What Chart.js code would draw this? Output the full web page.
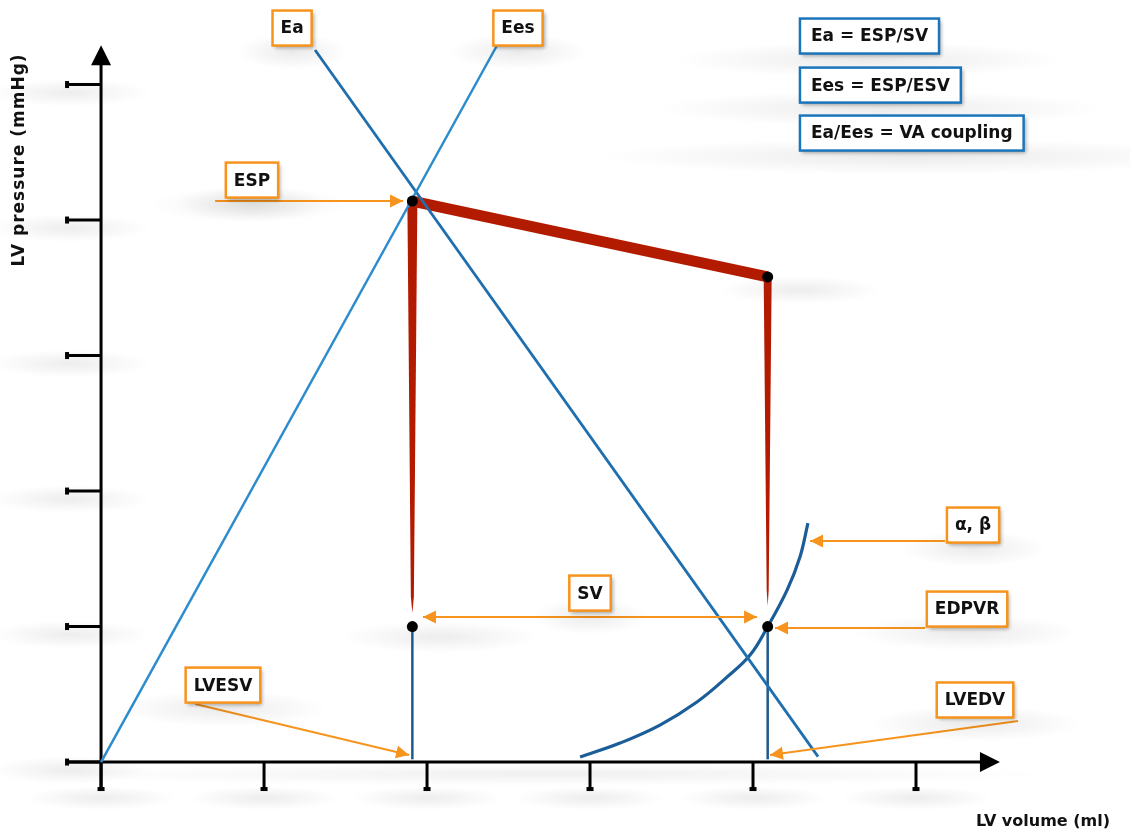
<!DOCTYPE html>
<html>
<head>
<meta charset="utf-8">
<script src="https://cdn.jsdelivr.net/npm/chart.js@4.4.1/dist/chart.umd.min.js"></script>
<style>
  html, body { margin: 0; padding: 0; background: #fff; overflow: hidden; }
  #wrap { width: 1130px; height: 834px; position: relative; }
  canvas { display: block; }
</style>
</head>
<body>
<div id="wrap"><canvas id="pvChart"></canvas></div>
<script>
// axis ticks (no labels, just marks)
const xTicks = [0, 1, 2, 3, 4, 5];
const yTicks = [0, 1, 2, 3, 4, 5];

// PV loop corners: ESV/ESP, EDV
const loopVolume = [1.91, 1.91, 4.09, 4.09];
const loopPressure = [1.0, 4.14, 3.58, 1.0];

// Ees and Ea lines
const eesVolume = [0, 2.43];
const eesPressure = [0, 5.29];
const eaVolume = [1.313, 4.399];
const eaPressure = [5.255, 0.04];

// EDPVR curve
const edpvrVolume = [2.939, 3.184, 3.429, 3.656, 3.84, 3.982, 4.09, 4.209, 4.288, 4.337];
const edpvrPressure = [0.037, 0.14, 0.273, 0.443, 0.627, 0.79, 1.0, 1.269, 1.513, 1.764];

// scale window
const xMin = -0.62, xMax = 6.313;
const yMin = -0.531, yMax = 5.624;
const pxPerX = 1130 / (xMax - xMin);

const ORANGE = '#f7941d';
const BLUE = '#1b75bb';
const RED = '#b31b00';
const FONT = 'bold 17px "DejaVu Sans", Verdana, sans-serif';

// annotation labels
const labels = [
  { text: 'Ea', x: 1.172, y: 5.417 },
  { text: 'Ees', x: 2.558, y: 5.417 },
  { text: 'ESP', x: 0.926, y: 4.295 },
  { text: 'SV', x: 3.0, y: 1.247 },
  { text: 'LVESV', x: 0.748, y: 0.568 },
  { text: 'LVEDV', x: 5.362, y: 0.458 },
  { text: 'EDPVR', x: 5.313, y: 1.129 },
  { text: 'α, β', x: 5.35, y: 1.749 }
];
const formulas = [
  { text: 'Ea = ESP/SV', x: 4.288, y: 5.358 },
  { text: 'Ees = ESP/ESV', x: 4.288, y: 4.996 },
  { text: 'Ea/Ees = VA coupling', x: 4.288, y: 4.642 }
];
const arrows = [
  { from: [0.70, 4.14], to: [1.853, 4.14] },
  { from: [1.975, 1.07], to: [4.025, 1.07], both: true },
  { from: [0.577, 0.428], to: [1.89, 0.052] },
  { from: [5.626, 0.303], to: [4.104, 0.052] },
  { from: [5.055, 0.989], to: [4.135, 0.989] },
  { from: [5.178, 1.631], to: [4.35, 1.631] }
];

function pts(xs, ys) {
  return xs.map((x, i) => ({ x: x, y: ys[i] }));
}

// tapered side of the loop, built as a polygon
function taper(x, yTop, yTip, wTop, wBottom) {
  const a = wTop / 2 / pxPerX, b = wBottom / 2 / pxPerX;
  const yb = yTip + 0.12;
  return [
    { x: x - a, y: yTop }, { x: x + a, y: yTop },
    { x: x + b, y: yb }, { x: x, y: yTip }, { x: x - b, y: yb },
    { x: x - a, y: yTop }
  ];
}

function softEllipse(ctx, cx, cy, rx, ry, alpha) {
  ctx.save();
  ctx.translate(cx, cy);
  ctx.scale(rx, ry);
  const g = ctx.createRadialGradient(0, 0, 0, 0, 0, 1);
  g.addColorStop(0, 'rgba(0,0,0,' + alpha + ')');
  g.addColorStop(1, 'rgba(0,0,0,0)');
  ctx.fillStyle = g;
  ctx.beginPath();
  ctx.arc(0, 0, 1, 0, Math.PI * 2);
  ctx.fill();
  ctx.restore();
}

function arrowHead(ctx, x0, y0, x1, y1) {
  const ang = Math.atan2(y1 - y0, x1 - x0);
  const len = 13, half = 6.5;
  ctx.beginPath();
  ctx.moveTo(x1, y1);
  ctx.lineTo(x1 - len * Math.cos(ang) - half * Math.sin(ang), y1 - len * Math.sin(ang) + half * Math.cos(ang));
  ctx.lineTo(x1 - len * Math.cos(ang) + half * Math.sin(ang), y1 - len * Math.sin(ang) - half * Math.cos(ang));
  ctx.closePath();
  ctx.fill();
}

function box(ctx, text, cx, cy, color, alignLeft) {
  ctx.font = FONT;
  const pad = alignLeft ? 11 : 8;
  const w = ctx.measureText(text).width + pad * 2;
  const h = 35;
  const left = alignLeft ? cx : cx - w / 2;
  const top = cy - h / 2;
  softEllipse(ctx, left + w / 2, top + h + 6, w * 1.4, 18, 0.08);
  ctx.save();
  ctx.shadowColor = 'rgba(0,0,0,0.35)';
  ctx.shadowBlur = 4;
  ctx.shadowOffsetX = 2;
  ctx.shadowOffsetY = 2;
  ctx.fillStyle = '#fff';
  ctx.fillRect(left, top, w, h);
  ctx.restore();
  ctx.strokeStyle = color;
  ctx.lineWidth = 2.5;
  ctx.strokeRect(left, top, w, h);
  ctx.fillStyle = '#111';
  ctx.textAlign = 'left';
  ctx.textBaseline = 'middle';
  ctx.fillText(text, left + pad, cy + 1);
}

function arrowHeadBig(ctx, x, y, dir) {
  ctx.beginPath();
  if (dir === 'x') {
    ctx.moveTo(x, y);
    ctx.lineTo(x - 20, y - 10);
    ctx.lineTo(x - 20, y + 10);
  } else {
    ctx.moveTo(x, y);
    ctx.lineTo(x - 10, y + 20);
    ctx.lineTo(x + 10, y + 20);
  }
  ctx.closePath();
  ctx.fill();
}

const sketchAxes = {
  id: 'sketchAxes',
  beforeDatasetsDraw(chart) {
    const ctx = chart.ctx;
    const sx = chart.scales.x, sy = chart.scales.y;
    const ox = sx.getPixelForValue(0), oy = sy.getPixelForValue(0);
    const xEnd = sx.getPixelForValue(5.515), yEnd = sy.getPixelForValue(5.29);
    ctx.save();
    // soft shadows
    yTicks.forEach(t => softEllipse(ctx, 70, sy.getPixelForValue(t) + 8, 80, 14, 0.07));
    xTicks.forEach(t => softEllipse(ctx, sx.getPixelForValue(t), oy + 36, 75, 12, 0.07));
    softEllipse(ctx, 550, oy + 12, 500, 12, 0.06);

    ctx.strokeStyle = '#000';
    ctx.fillStyle = '#000';
    ctx.lineWidth = 3;
    ctx.lineCap = 'butt';
    // axis lines
    ctx.beginPath();
    ctx.moveTo(ox - 34, oy);
    ctx.lineTo(xEnd - 14, oy);
    ctx.moveTo(ox, oy + 28);
    ctx.lineTo(ox, yEnd + 14);
    ctx.stroke();
    arrowHeadBig(ctx, xEnd, oy, 'x');
    arrowHeadBig(ctx, ox, yEnd, 'y');
    // ticks with little end caps
    yTicks.forEach(t => {
      const y = sy.getPixelForValue(t);
      ctx.beginPath();
      ctx.moveTo(ox - 34, y);
      ctx.lineTo(ox, y);
      ctx.stroke();
      ctx.fillRect(ox - 36, y - 3.5, 4, 7);
    });
    xTicks.forEach(t => {
      const x = sx.getPixelForValue(t);
      ctx.beginPath();
      ctx.moveTo(x, oy);
      ctx.lineTo(x, oy + 27);
      ctx.stroke();
      ctx.fillRect(x - 3.5, oy + 25, 7, 4);
    });
    // shadows near loop dots
    softEllipse(ctx, 440, 637, 100, 16, 0.07);
    softEllipse(ctx, 800, 290, 80, 14, 0.07);
    softEllipse(ctx, 250, 205, 100, 18, 0.06);
    ctx.restore();
  },
  afterDatasetsDraw(chart) {
    const ctx = chart.ctx;
    const sx = chart.scales.x, sy = chart.scales.y;
    ctx.save();
    ctx.strokeStyle = ORANGE;
    ctx.fillStyle = ORANGE;
    ctx.lineWidth = 2;
    arrows.forEach(a => {
      const x0 = sx.getPixelForValue(a.from[0]), y0 = sy.getPixelForValue(a.from[1]);
      const x1 = sx.getPixelForValue(a.to[0]), y1 = sy.getPixelForValue(a.to[1]);
      ctx.beginPath();
      ctx.moveTo(x0, y0);
      ctx.lineTo(x1, y1);
      ctx.stroke();
      arrowHead(ctx, x0, y0, x1, y1);
      if (a.both) arrowHead(ctx, x1, y1, x0, y0);
    });
    labels.forEach(l => box(ctx, l.text, sx.getPixelForValue(l.x), sy.getPixelForValue(l.y), ORANGE, false));
    formulas.forEach(l => box(ctx, l.text, sx.getPixelForValue(l.x), sy.getPixelForValue(l.y), BLUE, true));

    // axis titles
    ctx.fillStyle = '#111';
    ctx.textBaseline = 'middle';
    ctx.textAlign = 'right';
    ctx.font = 'bold 16px "DejaVu Sans", Verdana, sans-serif';
    ctx.fillText('LV volume (ml)', 1110, 822);
    ctx.translate(20, 160);
    ctx.rotate(-Math.PI / 2);
    ctx.textAlign = 'center';
    ctx.font = 'bold 17px "DejaVu Sans", Verdana, sans-serif';
    ctx.letterSpacing = '1px';
    ctx.fillText('LV pressure (mmHg)', 0, 0);
    ctx.restore();
  }
};

const lineBase = { type: 'line', showLine: true, pointRadius: 0, fill: false, tension: 0 };

new Chart(document.getElementById('pvChart').getContext('2d'), {
  type: 'scatter',
  data: {
    datasets: [
      { ...lineBase, label: 'points', showLine: false, order: 0,
        data: pts([loopVolume[1], loopVolume[2], loopVolume[0], loopVolume[3]],
                  [loopPressure[1], loopPressure[2], loopPressure[0], loopPressure[3]]),
        pointRadius: 5.5, pointBackgroundColor: '#000', pointBorderWidth: 0 },
      { ...lineBase, label: 'Ees', order: 1, data: pts(eesVolume, eesPressure),
        borderColor: '#2d8ccd', borderWidth: 2.5 },
      { ...lineBase, label: 'Ea', order: 1, data: pts(eaVolume, eaPressure),
        borderColor: '#1f6eae', borderWidth: 2.8 },
      { ...lineBase, label: 'EDPVR', order: 1, data: pts(edpvrVolume, edpvrPressure),
        borderColor: '#1b5d98', borderWidth: 3.2, tension: 0.4 },
      { ...lineBase, label: 'ESV', order: 1,
        data: pts([loopVolume[0], loopVolume[0]], [0.02, loopPressure[0]]),
        borderColor: '#1d5a8e', borderWidth: 2.5 },
      { ...lineBase, label: 'EDV', order: 1,
        data: pts([loopVolume[3], loopVolume[3]], [0.02, loopPressure[3]]),
        borderColor: '#1d5a8e', borderWidth: 2.5 },
      { ...lineBase, label: 'ejection', order: 2,
        data: pts([loopVolume[1], loopVolume[2]], [loopPressure[1], loopPressure[2]]),
        borderColor: RED, borderWidth: 11 },
      { ...lineBase, label: 'relaxation', order: 2,
        data: taper(loopVolume[0], loopPressure[1], loopPressure[0] + 0.1, 10, 3),
        borderWidth: 0, backgroundColor: RED, fill: 'shape' },
      { ...lineBase, label: 'contraction', order: 2,
        data: taper(loopVolume[3], loopPressure[2], loopPressure[3] + 0.15, 8, 2),
        borderWidth: 0, backgroundColor: RED, fill: 'shape' }
    ]
  },
  options: {
    responsive: true,
    maintainAspectRatio: false,
    animation: false,
    layout: { padding: 0, autoPadding: false },
    plugins: { legend: { display: false }, tooltip: { enabled: false } },
    scales: {
      x: { type: 'linear', display: false, min: xMin, max: xMax },
      y: { type: 'linear', display: false, min: yMin, max: yMax }
    }
  },
  plugins: [sketchAxes]
});
</script>
</body>
</html>
